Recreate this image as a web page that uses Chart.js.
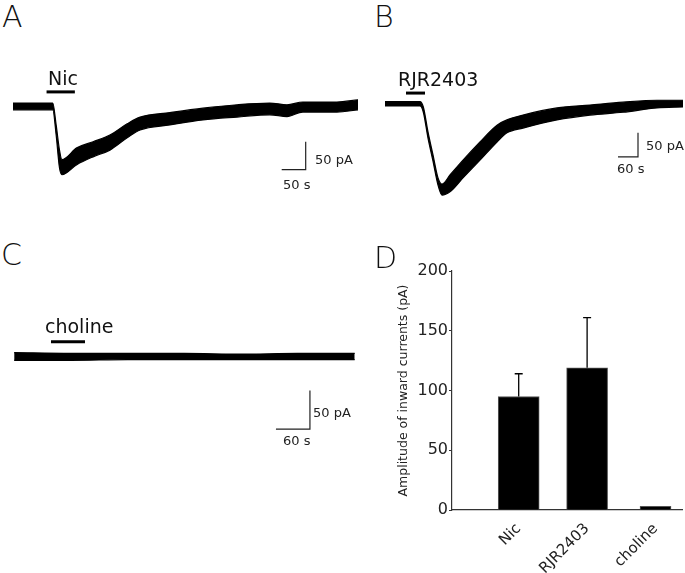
<!DOCTYPE html>
<html>
<head>
<meta charset="utf-8">
<script src="https://cdn.jsdelivr.net/npm/chart.js@4.4.1/dist/chart.umd.min.js"></script>
<style>
  body { margin: 0; background: #fff; }
  #fig { position: relative; width: 685px; height: 573px; font-family: "DejaVu Sans", sans-serif; color: #111; overflow: hidden; }
  #fig canvas { position: absolute; }
  .lbl { position: absolute; line-height: 1; white-space: nowrap; }
  .panel { font-size: 30px; font-weight: 200; }
  .drug { font-size: 19px; }
  .scale { font-size: 13px; color: #222; }
</style>
</head>
<body>
<div id="fig">
  <canvas id="chartA" width="370" height="150" style="left:0;top:60px"></canvas>
  <canvas id="chartB" width="315" height="150" style="left:370px;top:60px"></canvas>
  <canvas id="chartC" width="370" height="150" style="left:0;top:300px"></canvas>
  <canvas id="chartD" width="305" height="318" style="left:380px;top:255px"></canvas>

  <div class="lbl panel" style="left:2px;top:2px">A</div>
  <div class="lbl panel" style="left:374px;top:2px">B</div>
  <div class="lbl panel" style="left:1px;top:240px">C</div>
  <div class="lbl panel" style="left:374px;top:243px">D</div>

  <div class="lbl drug" style="left:48px;top:69px">Nic</div>
  <div class="lbl drug" style="left:398px;top:70px">RJR2403</div>
  <div class="lbl drug" style="left:45px;top:317px">choline</div>

  <div class="lbl scale" style="left:315px;top:153px">50 pA</div>
  <div class="lbl scale" style="left:283px;top:178px">50 s</div>
  <div class="lbl scale" style="left:646px;top:139px">50 pA</div>
  <div class="lbl scale" style="left:617px;top:162px">60 s</div>
  <div class="lbl scale" style="left:313px;top:406px">50 pA</div>
  <div class="lbl scale" style="left:283px;top:434px">60 s</div>
</div>
<script>
// Traces: time (s), upper and lower edge of the noisy current trace (pA)
const timeA  = [0, 83, 90, 97, 102, 133, 167, 202, 238, 265, 327, 396, 467, 535, 571, 604, 675, 719];
const upperA = [5, 5, -34, -79, -96, -75, -64, -52, -32, -20, -12, -4, 2, 5, 2, 7, 7, 11];
const lowerA = [-7, -7, -52, -111, -123, -105, -91, -79, -57, -43, -34, -25, -20, -16, -19, -11, -11, -7];

const timeB  = [0, 105, 115, 129, 144, 159, 171, 195, 234, 285, 336, 366, 414, 516, 615, 714, 816, 894];
const upperB = [5, 5, -6, -58, -106, -154, -167, -148, -117, -79, -44, -33, -23, -8, -2, 4, 8, 8];
const lowerB = [-4, -4, -17, -71, -119, -169, -190, -183, -154, -117, -79, -60, -50, -33, -23, -17, -8, -6];

const timeC  = [0, 100, 200, 300, 400, 500, 601];
const upperC = [5, 4, 4, 4, 3, 4, 4];
const lowerC = [-5, -5, -4, -4, -4, -4, -4];

// drug application (start, end in s) and the level it is drawn at (pA)
const drugA = [70, 129], drugLevelA = 25;
const drugB = [63, 120], drugLevelB = 23;
const drugC = [65, 125], drugLevelC = 19;

// calibration bars: corner points (s, pA)
const calTimeA = [560, 610, 610], calCurrA = [-114, -114, -64];
const calTimeB = [699, 759, 759], calCurrB = [-110, -110, -60];
const calTimeC = [462, 522, 522], calCurrC = [-94, -94, -44];

// Panel D: mean amplitude and error
const categories = ['Nic', 'RJR2403', 'choline'];
const means = [95, 119, 3];
const errors = [19, 42, 0];
const yTicks = [0, 50, 100, 150, 200];

const pts = (xs, ys) => xs.map((x, i) => ({ x, y: ys[i] }));

function traceChart(id, t, up, lo, drug, drugLevel, calT, calI, xr, yr) {
  const edge = { borderColor: '#000', borderWidth: 1.2, pointRadius: 0, cubicInterpolationMode: 'monotone' };
  return new Chart(document.getElementById(id), {
    type: 'line',
    data: {
      datasets: [
        { ...edge, data: pts(t, up), fill: false },
        { ...edge, data: pts(t, lo), fill: '-1', backgroundColor: '#000' },
        { data: pts(drug, drug.map(() => drugLevel)), borderColor: '#000', borderWidth: 3, pointRadius: 0 },
        { data: pts(calT, calI), borderColor: '#222', borderWidth: 1.2, pointRadius: 0 }
      ]
    },
    options: {
      responsive: false,
      animation: false,
      devicePixelRatio: 1,
      layout: { padding: 0, autoPadding: false },
      plugins: { legend: { display: false }, tooltip: { enabled: false } },
      scales: {
        x: { type: 'linear', display: false, min: xr[0], max: xr[1] },
        y: { display: false, min: yr[0], max: yr[1] }
      }
    }
  });
}

traceChart('chartA', timeA, upperA, lowerA, drugA, drugLevelA, calTimeA, calCurrA, [-27, 744], [-186, 82]);
traceChart('chartB', timeB, upperB, lowerB, drugB, drugLevelB, calTimeB, calCurrB, [-45, 900], [-221, 92]);
traceChart('chartC', timeC, upperC, lowerC, drugC, drugLevelC, calTimeC, calCurrC, [-25, 628], [-121, 73]);

// Bar chart
const positions = categories.map((c, i) => i + 1);
const barPx = [41, 41, 31];

const errorBars = {
  id: 'errorBars',
  afterDatasetsDraw(chart) {
    const { ctx, scales: { x, y } } = chart;
    ctx.save();
    ctx.strokeStyle = '#000';
    ctx.lineWidth = 1.3;
    means.forEach((m, i) => {
      if (!errors[i]) return;
      const px = x.getPixelForValue(positions[i]);
      const y0 = y.getPixelForValue(m);
      const y1 = y.getPixelForValue(m + errors[i]);
      ctx.beginPath();
      ctx.moveTo(px, y0);
      ctx.lineTo(px, y1);
      ctx.moveTo(px - 4, y1);
      ctx.lineTo(px + 4, y1);
      ctx.stroke();
    });
    ctx.restore();
  }
};

new Chart(document.getElementById('chartD'), {
  type: 'bar',
  data: {
    datasets: categories.map((c, i) => ({
      label: c,
      data: [{ x: positions[i], y: means[i] }],
      grouped: false,
      barThickness: barPx[i],
      backgroundColor: '#000',
      borderColor: '#555',
      borderWidth: 1
    }))
  },
  options: {
    responsive: false,
    animation: false,
    devicePixelRatio: 1,
    layout: { padding: { top: 16, right: 3, left: 0, bottom: 0 }, autoPadding: false },
    plugins: { legend: { display: false }, tooltip: { enabled: false } },
    scales: {
      x: {
        type: 'linear',
        offset: false,
        min: 0.025,
        max: 3.387,
        afterBuildTicks: s => { s.ticks = positions.map(v => ({ value: v })); },
        afterFit: s => { s.height = 63; },
        grid: { display: false },
        border: { display: true, color: '#333', width: 1.2 },
        ticks: {
          autoSkip: false,
          minRotation: 45,
          maxRotation: 45,
          padding: 2,
          color: '#222',
          font: { family: 'DejaVu Sans', size: 15 },
          callback: v => categories[positions.indexOf(v)]
        }
      },
      y: {
        min: 0,
        max: 200,
        afterBuildTicks: s => { s.ticks = yTicks.map(v => ({ value: v })); },
        afterFit: s => { s.width = 72; },
        grid: { drawOnChartArea: false, drawTicks: true, tickLength: 3, color: '#333' },
        border: { display: true, color: '#333', width: 1.2 },
        ticks: { padding: 1, color: '#222', font: { family: 'DejaVu Sans', size: 16 } },
        title: {
          display: true,
          text: 'Amplitude of inward currents (pA)',
          color: '#222',
          padding: { top: 16, bottom: 0 },
          font: { family: 'DejaVu Sans', size: 12.5 }
        }
      }
    }
  },
  plugins: [errorBars]
});
</script>
</body>
</html>
